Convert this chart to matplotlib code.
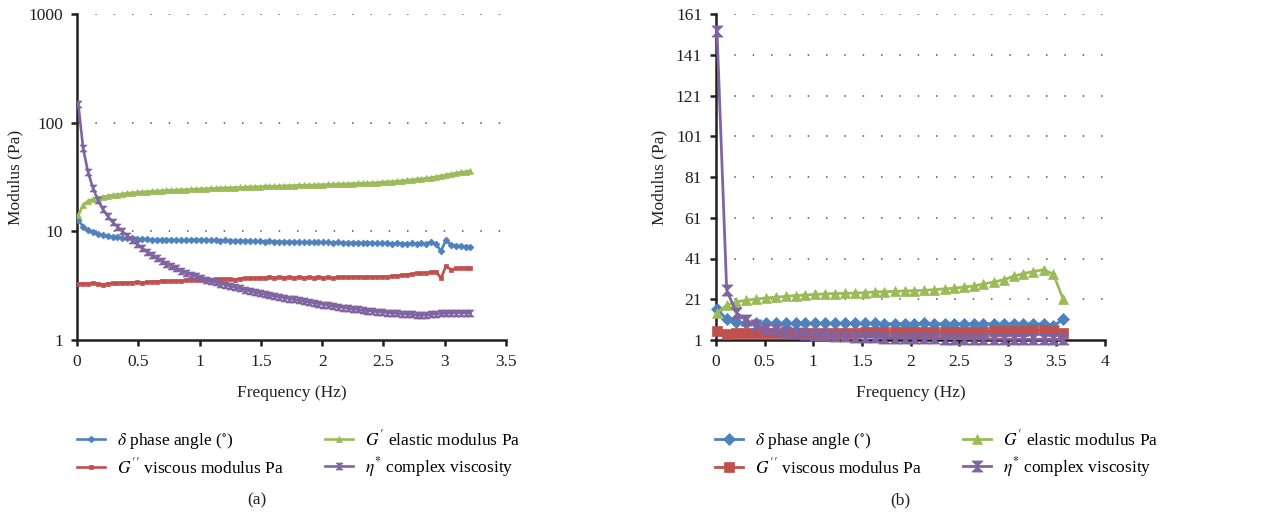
import numpy as np
import matplotlib
matplotlib.use("Agg")
import matplotlib.pyplot as plt
from matplotlib.path import Path
from matplotlib.ticker import FixedLocator, FixedFormatter, NullLocator

plt.rcParams['font.family'] = ['Liberation Serif', 'DejaVu Serif']
plt.rcParams['mathtext.fontset'] = 'stix'

# ---------------- Panel (a) data ----------------
freq_a = [0.01, 0.05, 0.09, 0.13, 0.17, 0.21, 0.25, 0.29, 0.33, 0.37,
          0.41, 0.45, 0.49, 0.53, 0.57, 0.61, 0.65, 0.69, 0.73, 0.77,
          0.81, 0.85, 0.89, 0.93, 0.97, 1.01, 1.05, 1.09, 1.13, 1.17,
          1.21, 1.25, 1.29, 1.33, 1.37, 1.41, 1.45, 1.49, 1.53, 1.57,
          1.61, 1.65, 1.69, 1.73, 1.77, 1.81, 1.85, 1.89, 1.93, 1.97,
          2.01, 2.05, 2.09, 2.13, 2.17, 2.21, 2.25, 2.29, 2.33, 2.37,
          2.41, 2.45, 2.49, 2.53, 2.57, 2.61, 2.65, 2.69, 2.73, 2.77,
          2.81, 2.85, 2.89, 2.93, 2.97, 3.01, 3.05, 3.09, 3.13, 3.17,
          3.21]
delta_a = [12.8, 11.0, 10.2, 9.8, 9.5, 9.2, 9.0, 8.9, 8.8, 8.7,
           8.65, 8.6, 8.5, 8.5, 8.45, 8.4, 8.35, 8.4, 8.3, 8.35,
           8.3, 8.25, 8.3, 8.3, 8.4, 8.35, 8.3, 8.25, 8.3, 8.2,
           8.25, 8.2, 8.15, 8.2, 8.1, 8.15, 8.1, 8.1, 8.05, 8.1,
           8.0, 8.05, 8.0, 8.0, 7.95, 8.0, 7.9, 7.95, 7.9, 7.95,
           7.9, 7.9, 7.85, 7.9, 7.85, 7.8, 7.85, 7.8, 7.8, 7.85,
           7.8, 7.75, 7.8, 7.75, 7.7, 7.75, 7.7, 7.7, 7.75, 7.7,
           7.75, 7.7, 8.0, 7.6, 6.6, 8.3, 7.5, 7.4, 7.3, 7.25,
           7.2]
gpp_a = [3.28, 3.3, 3.3, 3.32, 3.3, 3.24, 3.3, 3.32, 3.34, 3.35,
         3.36, 3.38, 3.4, 3.36, 3.42, 3.44, 3.45, 3.5, 3.47, 3.5,
         3.52, 3.5, 3.55, 3.57, 3.6, 3.6, 3.62, 3.6, 3.62, 3.65,
         3.62, 3.65, 3.6, 3.68, 3.7, 3.72, 3.7, 3.73, 3.75, 3.8,
         3.75, 3.76, 3.74, 3.76, 3.75, 3.77, 3.74, 3.76, 3.75, 3.8,
         3.74, 3.76, 3.72, 3.78, 3.8, 3.78, 3.8, 3.82, 3.8, 3.82,
         3.82, 3.8, 3.84, 3.82, 3.86, 3.9, 3.95, 4.0, 4.05, 4.1,
         4.1, 4.15, 4.2, 4.25, 3.7, 4.8, 4.45, 4.55, 4.6, 4.6,
         4.6]
gp_a = [14.0, 17.5, 19.0, 19.8, 20.3, 20.8, 21.2, 21.5, 21.8, 22.1,
        22.4, 22.6, 22.8, 23.0, 23.2, 23.3, 23.5, 23.6, 23.8, 23.9,
        24.0, 24.1, 24.2, 24.3, 24.4, 24.6, 24.7, 24.8, 24.9, 25.0,
        25.1, 25.2, 25.3, 25.4, 25.5, 25.6, 25.7, 25.8, 25.9, 26.0,
        26.0, 26.1, 26.2, 26.3, 26.4, 26.5, 26.6, 26.6, 26.7, 26.8,
        26.9, 27.0, 27.1, 27.2, 27.3, 27.4, 27.5, 27.6, 27.7, 27.8,
        27.9, 28.1, 28.3, 28.5, 28.7, 28.9, 29.2, 29.5, 29.8, 30.1,
        30.4, 30.8, 31.2, 31.8, 32.4, 33.0, 33.7, 34.3, 34.9, 35.4,
        35.8]
eta_a = [150, 58, 35, 25, 19.5, 16, 13.8, 12.2, 11, 10,
         9.1, 8.3, 7.6, 7.0, 6.5, 6.1, 5.7, 5.35, 5.05, 4.8,
         4.55, 4.35, 4.15, 4.0, 3.85, 3.72, 3.6, 3.5, 3.4, 3.3,
         3.22, 3.14, 3.06, 2.98, 2.9, 2.83, 2.77, 2.7, 2.64, 2.59,
         2.54, 2.49, 2.45, 2.4, 2.36, 2.32, 2.28, 2.24, 2.2, 2.16,
         2.12, 2.09, 2.05, 2.02, 1.99, 1.96, 1.93, 1.91, 1.88, 1.86,
         1.84, 1.82, 1.8, 1.79, 1.77, 1.76, 1.74, 1.73, 1.72, 1.7,
         1.69, 1.7, 1.72, 1.74, 1.76, 1.76, 1.77, 1.78, 1.78, 1.78,
         1.78]

# ---------------- Panel (b) data ----------------
freq_b = [0.01, 0.11, 0.21, 0.31, 0.41, 0.51, 0.62, 0.72, 0.82, 0.92,
          1.02, 1.12, 1.22, 1.33, 1.43, 1.53, 1.63, 1.73, 1.84, 1.94,
          2.04, 2.14, 2.24, 2.35, 2.45, 2.55, 2.65, 2.75, 2.86, 2.96,
          3.06, 3.16, 3.26, 3.37, 3.47, 3.57]
delta_b = [16.4, 11.1, 9.8, 9.5, 9.3, 9.3, 9.2, 9.2, 9.2, 9.2,
           9.2, 9.2, 9.2, 9.1, 9.2, 9.1, 9.1, 9.0, 9.0, 9.0,
           9.0, 9.1, 9.0, 9.0, 9.0, 9.0, 9.0, 9.0, 9.0, 9.0,
           8.9, 8.9, 8.9, 8.9, 8.0, 11.1]
gpp_b = [5.3, 4.1, 4.2, 4.3, 4.4, 4.4, 4.4, 4.5, 4.5, 4.5,
         4.5, 4.6, 4.6, 4.6, 4.6, 4.7, 4.7, 4.7, 4.7, 4.8,
         4.8, 4.8, 4.9, 4.9, 4.9, 5.0, 5.0, 5.1, 5.2, 5.3,
         5.4, 5.6, 5.7, 5.7, 5.4, 4.6]
gp_b = [14.4, 18.0, 19.7, 20.5, 21.1, 21.6, 22.1, 22.4, 22.8, 23.1,
        23.4, 23.6, 23.8, 23.9, 24.1, 24.2, 24.6, 24.7, 24.9, 25.1,
        25.2, 25.4, 25.7, 26.1, 26.4, 27.0, 27.5, 28.5, 29.5, 30.6,
        32.3, 33.6, 34.6, 35.5, 33.3, 20.9]
eta_b = [152.8, 25.4, 14.4, 10.7, 8.2, 6.6, 5.7, 4.9, 4.5, 3.9,
         3.6, 3.3, 3.0, 2.8, 2.6, 2.4, 2.3, 2.2, 2.1, 2.0,
         1.9, 1.8, 1.75, 1.7, 1.65, 1.6, 1.55, 1.5, 1.5, 1.45,
         1.4, 1.4, 1.35, 1.3, 1.3, 1.25]

labels = [r"$\delta$ phase angle ($^{\circ}$)",
          r"$G^{\prime\prime}$ viscous modulus Pa",
          r"$G^{\prime}$ elastic modulus Pa",
          r"$\eta^{*}$ complex viscosity"]
colors = ['#4F81BD', '#C0504D', '#9BBB59', '#8064A2']

hourglass = Path([(-1, 1), (1, 1), (-1, -1), (1, -1), (-1, 1)],
                 [Path.MOVETO, Path.LINETO, Path.LINETO, Path.LINETO, Path.CLOSEPOLY])
markers = ['D', 's', '^', hourglass]

fig = plt.figure(figsize=(12.79, 5.17), dpi=100)
W, H = 1279, 517

def add_ax(l, r, t, b):
    return fig.add_axes([l / W, 1 - b / H, (r - l) / W, (b - t) / H])

ax_a = add_ax(77, 506, 14, 340)
ax_b = add_ax(716, 1105, 14, 340)

FS = 12.5
INK = '#231f20'

def style(ax):
    for s in ['top', 'right']:
        ax.spines[s].set_visible(False)
    for s in ['left', 'bottom']:
        ax.spines[s].set_linewidth(1.8)
        ax.spines[s].set_color(INK)
    ax.tick_params(axis='both', direction='out', length=4, width=1.8,
                   color=INK, labelsize=FS, labelcolor=INK, pad=6)
    ax.set_xlabel('Frequency (Hz)', fontsize=FS, color=INK, labelpad=11)
    ax.set_ylabel('Modulus (Pa)', fontsize=FS, color=INK)

GRID_LS = (0, (1, 11))

# Panel (a)
series_a = [delta_a, gpp_a, gp_a, eta_a]
ms_a = [3.5, 3.5, 4, 5]
handles = []
for y, c, m, ms in zip(series_a, colors, markers, ms_a):
    h, = ax_a.plot(freq_a, y, color=c, lw=1.9, marker=m, ms=ms,
                   markeredgewidth=0.5, markeredgecolor=c, zorder=3)
    handles.append(h)
ax_a.set_yscale('log')
ax_a.set_ylim(1, 1000)
ax_a.set_xlim(0, 3.5)
ax_a.yaxis.set_major_locator(FixedLocator([1, 10, 100, 1000]))
ax_a.yaxis.set_major_formatter(FixedFormatter(['1', '10', '100', '1000']))
ax_a.yaxis.set_minor_locator(NullLocator())
ax_a.set_xticks([0, 0.5, 1, 1.5, 2, 2.5, 3, 3.5])
ax_a.set_xticklabels(['0', '0.5', '1', '1.5', '2', '2.5', '3', '3.5'])
for yv in [10, 100, 1000]:
    ax_a.axhline(yv, color='#555555', lw=1.1, ls=GRID_LS, zorder=1)
style(ax_a)
ax_a.yaxis.set_label_coords(-0.125, 0.5)

fig.legend(handles, labels, loc='upper left', ncol=2,
           bbox_to_anchor=(70 / W, 1 - 422 / H), frameon=False,
           fontsize=FS, handlelength=1.6, handletextpad=0.7,
           columnspacing=2.4, labelspacing=0.35, borderaxespad=0)

# Panel (b)
series_b = [delta_b, gpp_b, gp_b, eta_b]
ms_b = [6, 7, 7.5, 8]
handles_b = []
for y, c, m, ms in zip(series_b, colors, markers, ms_b):
    h, = ax_b.plot(freq_b, y, color=c, lw=2.0, marker=m, ms=ms,
                   markeredgewidth=0.5, markeredgecolor=c, zorder=3, clip_on=False)
    handles_b.append(h)
ax_b.set_ylim(1, 161)
ax_b.set_xlim(0, 4)
ax_b.set_yticks([1, 21, 41, 61, 81, 101, 121, 141, 161])
ax_b.set_xticks([0, 0.5, 1, 1.5, 2, 2.5, 3, 3.5, 4])
ax_b.set_xticklabels(['0', '0.5', '1', '1.5', '2', '2.5', '3', '3.5', '4'])
for yv in [21, 41, 61, 81, 101, 121, 141, 161]:
    ax_b.axhline(yv, color='#555555', lw=1.1, ls=GRID_LS, zorder=1)
style(ax_b)
ax_b.yaxis.set_label_coords(-0.126, 0.5)

fig.legend(handles_b, labels, loc='upper left', ncol=2,
           bbox_to_anchor=(708 / W, 1 - 422 / H), frameon=False,
           fontsize=FS, handlelength=1.6, handletextpad=0.7,
           columnspacing=2.4, labelspacing=0.35, borderaxespad=0)

fig.text(257 / W, 1 - 500 / H, '(a)', ha='center', va='center', fontsize=FS, color=INK)
fig.text(900 / W, 1 - 500 / H, '(b)', ha='center', va='center', fontsize=FS, color=INK)

fig.savefig('out.png', dpi=100)
